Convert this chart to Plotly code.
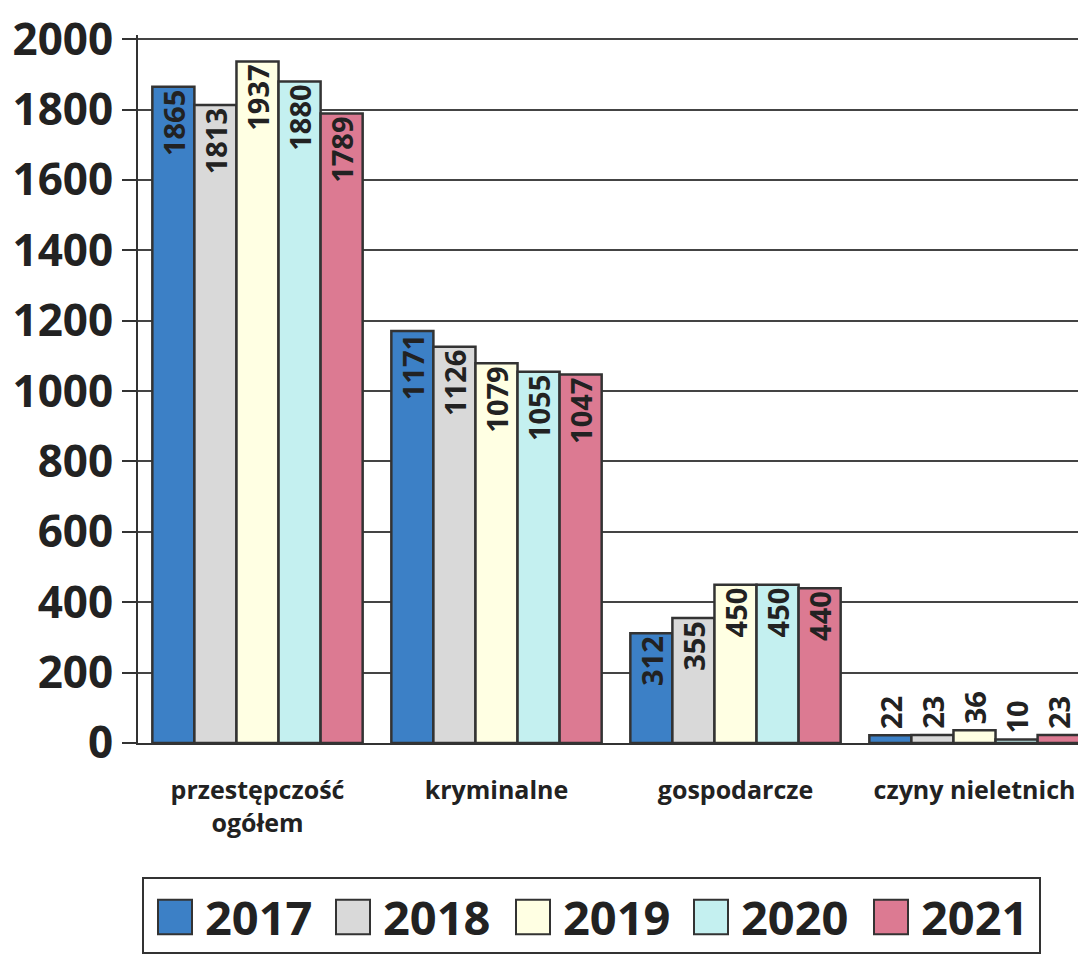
import plotly.graph_objects as go

categories = ["przestępczość<br>ogółem", "kryminalne", "gospodarcze", "czyny nieletnich"]
years = ["2017", "2018", "2019", "2020", "2021"]
v2017 = [1865, 1171, 312, 22]
v2018 = [1813, 1126, 355, 23]
v2019 = [1937, 1079, 450, 36]
v2020 = [1880, 1055, 450, 10]
v2021 = [1789, 1047, 440, 23]
series = [v2017, v2018, v2019, v2020, v2021]
colors = ["#3C80C6", "#D9D9D9", "#FFFFE3", "#C4F0F0", "#DC7A92"]
y_ticks = [0, 200, 400, 600, 800, 1000, 1200, 1400, 1600, 1800, 2000]

OFF = 8  # page body margin
W, H = 1086, 958
YMAX = 2012
ZERO_PAGE, TOP_PAGE = 743, 29       # page y of 0 and 2000
PH = (ZERO_PAGE - TOP_PAGE) * YMAX / 2000
MB = H - (ZERO_PAGE - OFF)
MT = H - MB - PH
ML, MR = 138 - OFF, 0
PW = W - ML - MR
BARGAP = 0.12


def px(x):  # page pixel -> paper
    return (x - OFF - ML) / PW


def py(y):
    return (H - MB - (y - OFF)) / PH


FONT = "Open Sans"
TXT = "#222222"
VALFONT = dict(family=FONT, size=29, color=TXT, weight="bold")

fig = go.Figure()
annotations = []
n = len(years)
bw = (PW / len(categories)) * (1 - BARGAP) / n
for i, (yr, vals, col) in enumerate(zip(years, series, colors)):
    inside = [j for j, v in enumerate(vals) if v >= 150]
    fig.add_trace(go.Bar(
        x=categories, y=vals, name=yr,
        marker=dict(color=col, line=dict(color="#333333", width=2.5)),
        text=[str(v) if j in inside else "" for j, v in enumerate(vals)],
        textposition="inside",
        insidetextanchor="end",
        textangle=-90,
        constraintext="none",
        textfont=VALFONT,
        showlegend=False,
    ))
    for j, v in enumerate(vals):
        if j not in inside:
            annotations.append(dict(
                x=categories[j], y=v, xref="x", yref="y",
                text=str(v), showarrow=False, textangle=-90,
                xanchor="center", yanchor="bottom",
                xshift=(i - (n - 1) / 2) * bw, yshift=4,
                font=VALFONT,
            ))

# manual legend (large symbols like the reference)
shapes = [dict(type="rect", xref="paper", yref="paper",
               x0=px(143), x1=px(1040), y0=py(880), y1=py(956),
               line=dict(color="#333333", width=2), fillcolor="white")]
sq_x = [158, 336, 516, 694, 874]
for yr, col, sx in zip(years, colors, sq_x):
    shapes.append(dict(type="rect", xref="paper", yref="paper",
                       x0=px(sx), x1=px(sx + 34), y0=py(902), y1=py(937),
                       line=dict(color="#333333", width=2), fillcolor=col))
    annotations.append(dict(xref="paper", yref="paper", x=px(sx + 45), y=py(920),
                            text=yr, showarrow=False, xanchor="left", yanchor="middle",
                            font=dict(family=FONT, size=47, color=TXT, weight="bold")))

fig.update_layout(
    width=W, height=H,
    margin=dict(l=ML, r=MR, t=MT, b=MB),
    paper_bgcolor="white", plot_bgcolor="white",
    barmode="group", bargap=BARGAP, bargroupgap=0,
    shapes=shapes, annotations=annotations,
    showlegend=False,
    xaxis=dict(
        showgrid=False, showline=True, linecolor="#333333", linewidth=2,
        ticks="", tickfont=dict(family=FONT, size=25, color=TXT, weight="bold"),
        ticklabelstandoff=24,
    ),
    yaxis=dict(
        range=[0, YMAX], tickvals=y_ticks,
        showgrid=True, gridcolor="#444444", gridwidth=1.5,
        showline=True, linecolor="#333333", linewidth=2,
        ticks="outside", ticklen=14, tickcolor="#333333", tickwidth=2,
        zeroline=False, ticklabeloverflow="allow",
        tickfont=dict(family=FONT, size=44, color=TXT, weight="bold"),
    ),
)

fig.write_html("out.html")
